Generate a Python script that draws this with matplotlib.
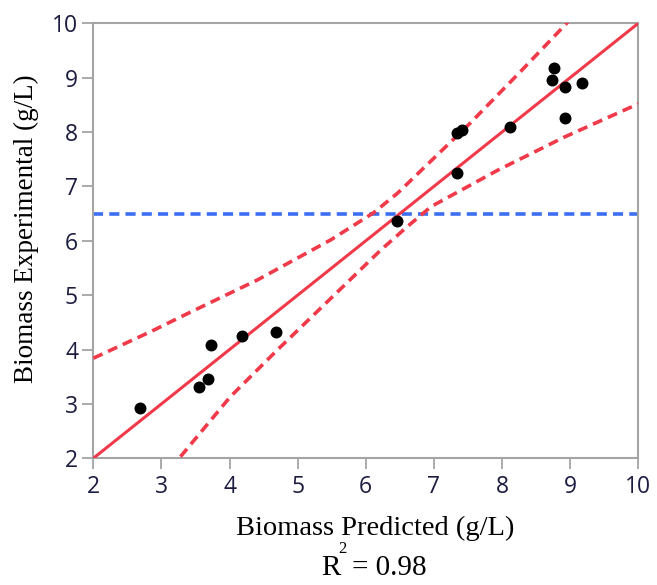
import matplotlib
matplotlib.use("Agg")
import matplotlib.pyplot as plt

# Predicted vs experimental biomass (g/L)
predicted = [2.68, 3.55, 3.68, 3.73, 4.18, 4.68, 6.46, 7.34, 7.34, 7.41,
             8.12, 8.77, 8.73, 8.93, 9.17, 8.93]
experimental = [2.92, 3.31, 3.45, 4.08, 4.25, 4.33, 6.37, 7.24, 7.98, 8.04,
                8.09, 9.17, 8.95, 8.83, 8.90, 8.25]

mean_line = 6.50

# confidence curves
upper_x = [2.0, 2.86, 3.43, 4.41, 5.49, 6.12, 6.47, 7.53, 8.27, 8.85, 9.0]
upper_y = [3.84, 4.34, 4.69, 5.28, 6.02, 6.52, 6.88, 8.16, 9.11, 9.87, 10.07]
lower_x = [3.28, 4.01, 4.70, 5.61, 6.22, 6.60, 6.96, 7.94, 8.92, 9.95, 10.0]
lower_y = [2.03, 3.13, 3.99, 5.09, 5.83, 6.25, 6.63, 7.30, 7.91, 8.49, 8.52]

ticks = [2, 3, 4, 5, 6, 7, 8, 9, 10]

red = '#f03a4a'
blue = '#3b6ef2'
frame = '#a4a4a4'
W, H = 657, 585

fig = plt.figure(figsize=(6.57, 5.85), dpi=100)
ax = fig.add_axes([0.142, 0.2166, 0.8295, 0.7436])

ax.axhline(mean_line, color=blue, lw=2.6, dashes=(2.8, 1.7), zorder=2)
ax.plot([2, 10], [2, 10], color=red, lw=2.2, zorder=3)
ax.plot(upper_x, upper_y, color=red, lw=2.6, dashes=(2.8, 1.7), zorder=3)
ax.plot(lower_x, lower_y, color=red, lw=2.6, dashes=(2.8, 1.7), zorder=3)
ax.scatter(predicted, experimental, s=74, color='black', zorder=4, linewidths=0)

ax.set_xlim(2, 10)
ax.set_ylim(2, 10)
ax.set_xticks(ticks)
ax.set_yticks(ticks)
for s in ax.spines.values():
    s.set_color(frame)
    s.set_linewidth(1.5)
ax.tick_params(direction='out', length=8, width=1.3, color=frame,
               labelsize=16.5, labelcolor='#1c1c40')
ax.tick_params(axis='x', pad=4)
ax.tick_params(axis='y', pad=3)
for lbl in ax.get_xticklabels() + ax.get_yticklabels():
    lbl.set_fontfamily('Open Sans')

serif = 'Liberation Serif'
fig.text(0.571, 0.0855, 'Biomass Predicted (g/L)', fontfamily=serif,
         fontsize=20.5, ha='center', va='baseline')
fig.text(0.040, 0.609, 'Biomass Experimental (g/L)', fontfamily=serif,
         fontsize=19.5, ha='center', va='center', rotation=90)

# R^2 line, superscript placed by hand like the original
base = 1 - 575 / H
fig.text(321 / W, base, 'R', fontfamily=serif, fontsize=21, ha='left', va='baseline')
fig.text(338 / W, 1 - 553 / H, '2', fontfamily=serif, fontsize=12, ha='left', va='baseline')
fig.text(352 / W, base, '= 0.98', fontfamily=serif, fontsize=21, ha='left', va='baseline')

plt.savefig('out.png', dpi=100)
